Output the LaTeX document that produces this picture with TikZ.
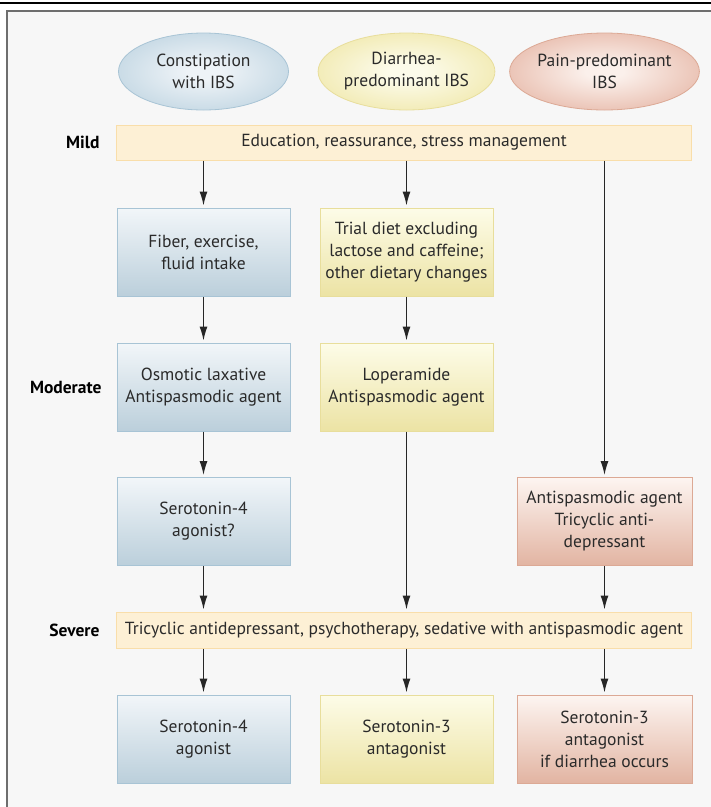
\documentclass[tikz,border=0pt]{standalone}
\usepackage{fontspec}
\setmainfont{PT Sans}
\usetikzlibrary{shapes.geometric,arrows.meta}

\definecolor{bg}{HTML}{F7F7F7}
\definecolor{frame}{HTML}{6E6E6E}
\definecolor{txt}{HTML}{2A2A2A}
\definecolor{consTop}{HTML}{F2F6F9}
\definecolor{consBot}{HTML}{BBCFDB}
\definecolor{consLine}{HTML}{A8C4D5}
\definecolor{consIn}{HTML}{EEF3F7}
\definecolor{consOut}{HTML}{AFCADA}
\definecolor{diarTop}{HTML}{FDFCE8}
\definecolor{diarBot}{HTML}{ECE3A4}
\definecolor{diarLine}{HTML}{E8DE9C}
\definecolor{diarIn}{HTML}{FCFBEA}
\definecolor{diarOut}{HTML}{ECE194}
\definecolor{painTop}{HTML}{FDF5F1}
\definecolor{painBot}{HTML}{E2B4A2}
\definecolor{painLine}{HTML}{DCA995}
\definecolor{painIn}{HTML}{FBF0EB}
\definecolor{painOut}{HTML}{DFA490}
\definecolor{barFill}{HTML}{FDF0D5}
\definecolor{barLine}{HTML}{F9DEAA}

\pgfdeclareradialshading{consShade}{\pgfpoint{0bp}{0bp}}{color(0bp)=(consIn); color(5bp)=(consIn); color(40bp)=(consOut); color(50bp)=(consOut)}
\pgfdeclareradialshading{diarShade}{\pgfpoint{0bp}{0bp}}{color(0bp)=(diarIn); color(5bp)=(diarIn); color(40bp)=(diarOut); color(50bp)=(diarOut)}
\pgfdeclareradialshading{painShade}{\pgfpoint{0bp}{0bp}}{color(0bp)=(painIn); color(5bp)=(painIn); color(40bp)=(painOut); color(50bp)=(painOut)}

\begin{document}
\begin{tikzpicture}[x=1pt,y=-1pt]
	\tikzset{
		box/.style={rectangle, draw=#1Line, top color=#1Top, bottom color=#1Bot, line width=1pt, minimum width=173pt, minimum height=88pt, inner sep=0pt, align=center, text=txt, font=\fontsize{17.5}{22}\selectfont},
		group/.style={ellipse, draw=#1Line, shading=#1Shade, line width=0.8pt, minimum width=170pt, minimum height=77pt, inner sep=0pt, align=center, text=txt, font=\fontsize{17.5}{22}\selectfont},
		bar/.style={rectangle, draw=barLine, fill=barFill, line width=1pt, minimum width=575pt, minimum height=35pt, inner sep=0pt, text=txt, font=\fontsize{17.5}{22}\selectfont},
		level/.style={anchor=east, font=\bfseries\fontsize{17.5}{22}\selectfont, text=black},
		arr/.style={-{Latex[length=14pt,width=8pt]}, draw=black!85, line width=1.2pt, shorten >=2pt}
	}
	\useasboundingbox (0,0) rectangle (711,807);
	\clip (0,0) rectangle (711,807);

	\draw[black, line width=1.5pt] (0,3) -- (711,3);
	\draw[frame, line width=2.5pt, fill=bg] (7,11) rectangle (760,860);

	\node[group=cons] (g1) at (203.5,71.5) {Constipation\\with IBS};
	\node[group=diar] (g2) at (406.5,71.5) {Diarrhea-\\predominant IBS};
	\node[group=pain] (g3) at (604.5,71.5) {Pain-predominant\\IBS};

	\node[bar] (mild) at (404,142.5) {Education, reassurance, stress management};
	\node[level] (lmild) at (103,142.5) {Mild};

	\node[box=cons] (c1) at (203.5,252) {Fiber, exercise,\\fluid intake};
	\node[box=diar] (d1) at (406.5,252) {Trial diet excluding\\lactose and caffeine;\\other dietary changes};

	\node[box=cons] (c2) at (203.5,387) {Osmotic laxative\\Antispasmodic agent};
	\node[box=diar] (d2) at (406.5,387) {Loperamide\\Antispasmodic agent};
	\node[level] (lmod) at (105,387) {Moderate};

	\node[box=cons] (c3) at (203.5,521.5) {Serotonin-4\\agonist?};
	\node[box=pain, minimum width=175pt] (p3) at (604.5,521.5) {Antispasmodic agent\\Tricyclic anti-\\depressant};

	\node[bar, minimum height=36pt] (severe) at (404,630) {Tricyclic antidepressant, psychotherapy, sedative with antispasmodic agent};
	\node[level] (lsev) at (103,630) {Severe};

	\node[box=cons] (c4) at (203.5,739) {Serotonin-4\\agonist};
	\node[box=diar] (d4) at (406.5,739) {Serotonin-3\\antagonist};
	\node[box=pain, minimum width=175pt] (p4) at (604.5,739) {Serotonin-3\\antagonist\\if diarrhea occurs};

	\foreach \a/\b in {c1/c2, c2/c3, d1/d2}{
		\draw[arr] (\a) -- (\b);
	}
	\foreach \b in {c1, d1, p3}{
		\draw[arr] (mild.south -| \b) -- (\b.north);
	}
	\foreach \a in {c3, d2, p3}{
		\draw[arr] (\a.south) -- (severe.north -| \a);
	}
	\foreach \b in {c4, d4, p4}{
		\draw[arr] (severe.south -| \b) -- (\b.north);
	}
\end{tikzpicture}
\end{document}
